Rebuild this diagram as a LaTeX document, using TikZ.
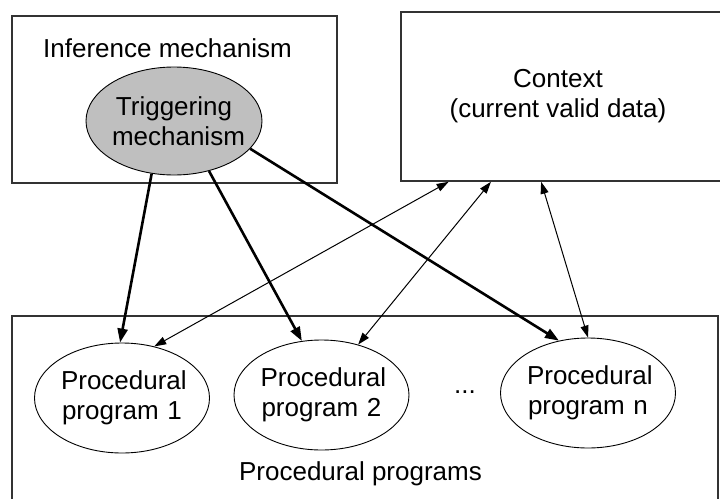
\documentclass[tikz,border=0pt]{standalone}
\usepackage{fontspec}
\setmainfont{Liberation Sans}
\usetikzlibrary{shapes.geometric}
\usetikzlibrary{arrows.meta}

\begin{document}
\begin{tikzpicture}[x=1pt, y=-1pt,
  every node/.style={font=\fontsize{26}{30}\selectfont},
  box/.style={draw=black!80, line width=1.6pt, inner sep=0pt},
  prog/.style={ellipse, draw, line width=0.9pt, inner sep=0pt, minimum width=175pt, minimum height=110pt, text width=122pt, align=center},
  fat/.style={line width=2.6pt, -{Triangle[length=14pt,width=10pt]}},
  link/.style={line width=1pt, {Triangle[length=12pt,width=8pt]}-{Triangle[length=12pt,width=8pt]}}]
\useasboundingbox (0,0) rectangle (720,498);
\clip (0,0) rectangle (720,498);

\node[box, minimum width=325pt, minimum height=167pt] (inf) at (174.5,99.5) {};
\node[anchor=base] (inftext) at (167.5,57) {Inference mechanism};
\node[prog, fill=black!25, minimum width=176pt, minimum height=108pt, text width=124pt] (trig) at (174,121) {Triggering\\mechanism};

\node[box, minimum width=339pt, minimum height=169pt] (ctx) at (570.5,96.5) {};
\node[align=center] (ctxtext) at (558,96) {Context\\(current valid data)};

\node[box, minimum width=706pt, minimum height=204pt] (procs) at (365,418) {};
\node[anchor=base] (procstext) at (360.5,480) {Procedural programs};

\node[prog] (p1) at (122,398) {Procedural\\program 1};
\node[prog] (p2) at (321.5,395) {Procedural\\program 2};
\node[prog] (pn) at (588,393) {Procedural\\program n};
\node[anchor=base] (dots) at (465,393) {...};

\draw[fat] (trig.247) -- (p1.92);
\draw[fat] (trig.305) -- (p2.110);
\draw[fat] (trig.340) -- (pn.119);

\draw[link] (ctx.215) -- (p1.58);
\draw[link] (ctx.227) -- (p2.54);
\draw[link] (ctx.251) -- (pn.90);
\end{tikzpicture}
\end{document}
